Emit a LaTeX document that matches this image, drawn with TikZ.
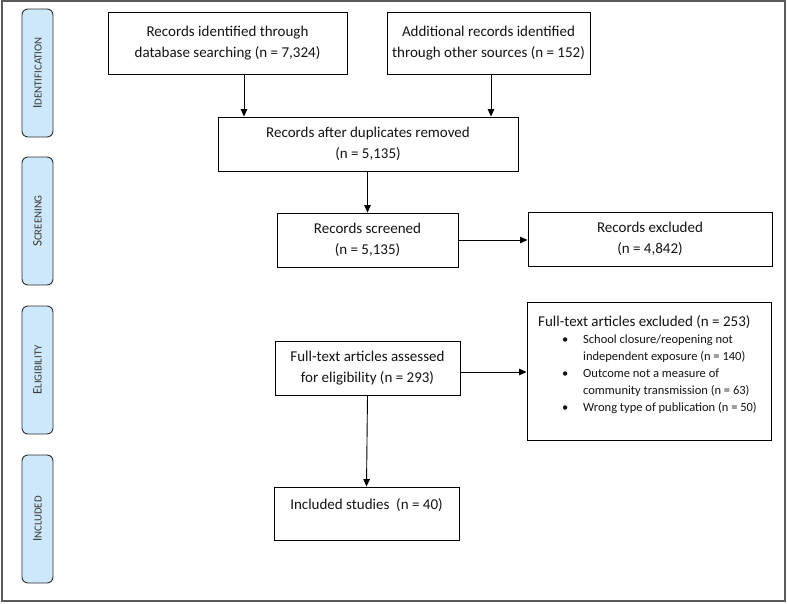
\documentclass[tikz,border=0pt]{standalone}
\usepackage{fontspec}
\setmainfont{Carlito}
\usetikzlibrary{arrows.meta,calc}
\definecolor{pillblue}{RGB}{204,232,250}
\definecolor{framegray}{RGB}{90,90,90}
\definecolor{pillline}{RGB}{45,45,45}
\definecolor{inktext}{RGB}{20,20,20}
\newcommand\pilltext[2]{{\fontsize{13}{13}\selectfont #1}{\fontsize{10.8}{11}\selectfont #2}}
\begin{document}
\begin{tikzpicture}[x=1pt,y=-1pt,
  box/.style={draw=black,line width=0.9pt,fill=white,align=center,inner sep=0pt,text=inktext,font=\fontsize{15}{21}\selectfont},
  pill/.style={draw=pillline,line width=0.9pt,fill=pillblue,rounded corners=6pt,rotate=90,minimum width=128pt,minimum height=31pt,inner sep=0pt,text=inktext!85},
  arr/.style={line width=0.9pt,-{Triangle[length=7.5pt,width=6.5pt]}}]
\useasboundingbox (0,0) rectangle (787,603);
\draw[framegray,line width=1.8pt] (2,1) rectangle (785,601);
% phase labels
\node[pill] (p1) at (37.5,73) {\pilltext{I}{DENTIFICATION}};
\node[pill] (p2) at (37.5,221) {\pilltext{S}{CREENING}};
\node[pill] (p3) at (37.5,370) {\pilltext{E}{LIGIBILITY}};
\node[pill] (p4) at (37.5,519) {\pilltext{I}{NCLUDED}};
% boxes
\node[box,minimum width=239pt,minimum height=62pt] (A) at (227.5,43) {Records identified through\\database searching (n = 7,324)};
\node[box,minimum width=203pt,minimum height=62pt] (B) at (488.5,43) {Additional records identified\\through other sources (n = 152)};
\node[box,minimum width=300pt,minimum height=54pt] (C) at (368,144) {Records after duplicates removed\\(n = 5,135)};
\node[box,minimum width=181pt,minimum height=54pt] (D) at (367.5,240) {Records screened\\(n = 5,135)};
\node[box,minimum width=244pt,minimum height=54pt] (E) at (650,239) {Records excluded\\(n = 4,842)};
\node[box,minimum width=185pt,minimum height=54pt] (F) at (367.5,368) {Full-text articles assessed\\for eligibility (n = 293)};
\node[box,minimum width=244pt,minimum height=138pt] (G) at (649,371) {};
\node[box,minimum width=185pt,minimum height=53pt] (H) at (366.5,513.5) {};
\node[inner sep=0pt,text=inktext,font=\fontsize{15}{21}\selectfont] (ht) at (366.5,505) {Included studies\ \ (n = 40)};
% excluded list
\node[anchor=west,inner sep=0pt,text=inktext,font=\fontsize{15}{18}\selectfont] (gh) at (538,322) {Full-text articles excluded (n = 253)};
\node[anchor=north west,inner sep=0pt,text=inktext,font=\fontsize{12.5}{16.8}\selectfont] (gl) at (562,332) {\begin{tabular}{@{}p{21pt}@{}l@{}}
\textbullet & School closure/reopening not\\
 & independent exposure (n = 140)\\
\textbullet & Outcome not a measure of\\
 & community transmission (n = 63)\\
\textbullet & Wrong type of publication (n = 50)
\end{tabular}};
% connectors
\coordinate (ax) at (244,0);
\coordinate (bx) at (491,0);
\coordinate (fy) at (0,372);
\draw[arr] (A.south -| ax) -- (C.north -| ax);
\draw[arr] (B.south -| bx) -- (C.north -| bx);
\draw[arr] (C.south -| D.north) -- (D.north);
\draw[arr] (D.east) -- (E.west |- D.east);
\draw[arr] (F.east |- fy) -- (G.west |- fy);
\draw[arr] (F.south) -- (H.north);
\end{tikzpicture}
\end{document}
